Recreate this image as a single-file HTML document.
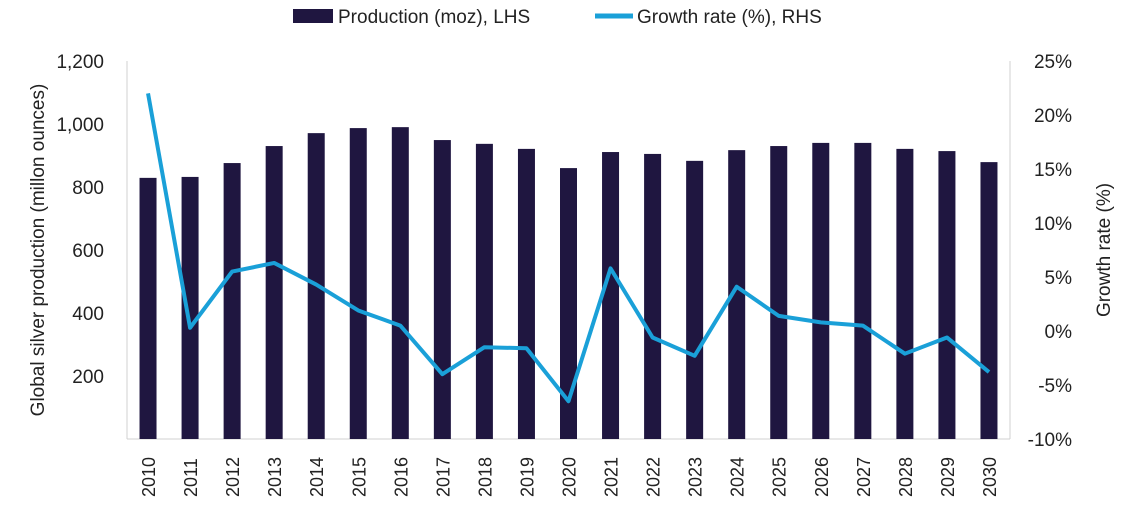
<!DOCTYPE html>
<html><head><meta charset="utf-8"><style>
body{margin:0;background:#fff;}
svg text{font-family:"Liberation Sans",sans-serif;fill:#222;}
</style></head><body>
<svg width="1123" height="513" viewBox="0 0 1123 513">
<g>
<rect x="293" y="9" width="40" height="14" fill="#1f1640"/>
<text x="338" y="23" font-size="19">Production (moz), LHS</text>
<line x1="595" y1="16" x2="633" y2="16" stroke="#1aa0d8" stroke-width="5"/>
<text x="637" y="23" font-size="19">Growth rate (%), RHS</text>
</g>
<g id="axes"></g>
<g id="bars"></g>
<g id="line"></g>
<text transform="translate(44,250) rotate(-90)" text-anchor="middle" font-size="19">Global silver production (millon ounces)</text>
<text transform="translate(1110,250) rotate(-90)" text-anchor="middle" font-size="19">Growth rate (%)</text>
</svg>
<script>
const categories=[2010,2011,2012,2013,2014,2015,2016,2017,2018,2019,2020,2021,2022,2023,2024,2025,2026,2027,2028,2029,2030];
const production=[829,832,876,930,971,987,990,949,937,921,860,911,905,883,917,930,940,940,921,914,879];
const growth=[22,0.3,5.5,6.3,4.3,1.9,0.5,-4,-1.5,-1.6,-6.5,5.8,-0.6,-2.3,4.1,1.4,0.8,0.5,-2.1,-0.6,-3.8];
const leftTicks=[200,400,600,800,1000,1200];
const rightTicks=[-10,-5,0,5,10,15,20,25];
const NS="http://www.w3.org/2000/svg";
const x0=127,x1=1010,yTop=61,yBot=439;
const yL=v=>yBot-(v/1200)*(yBot-yTop);
const yR=v=>yBot-((v+10)/35)*(yBot-yTop);
const step=(x1-x0)/categories.length;
const xc=i=>x0+step*(i+0.5);
function mk(tag,attrs,parent){const e=document.createElementNS(NS,tag);for(const k in attrs)e.setAttribute(k,attrs[k]);parent.appendChild(e);return e;}
const axes=document.getElementById('axes'),bars=document.getElementById('bars'),line=document.getElementById('line');
let e=mk('line',{x1:x0,y1:yTop,x2:x0,y2:yBot,stroke:'#d0d0d0','stroke-width':1},axes);


e=mk('line',{x1:x1,y1:yTop,x2:x1,y2:yBot,stroke:'#d0d0d0','stroke-width':1},axes);


e=mk('line',{x1:x0,y1:yBot,x2:x1,y2:yBot,stroke:'#d0d0d0','stroke-width':1},axes);


leftTicks.forEach(t=>{const tx=mk('text',{x:104,y:yL(t)+7,'text-anchor':'end','font-size':19},axes);tx.textContent=t.toLocaleString('en-US');

});
rightTicks.forEach(t=>{const tx=mk('text',{x:1072,y:yR(t)+7,'text-anchor':'end','font-size':19},axes);tx.textContent=t+'%';

});
categories.forEach((c,i)=>{
const r=mk('rect',{x:xc(i)-8.5,y:yL(production[i]),width:17,height:yBot-yL(production[i]),fill:'#1f1640'},bars);


const tx=mk('text',{transform:`translate(${xc(i)+7},497) rotate(-90)`,'font-size':18},axes);tx.textContent=c;


});
const p=mk('polyline',{points:growth.map((g,i)=>xc(i)+','+yR(g)).join(' '),fill:'none',stroke:'#1aa0d8','stroke-width':4,'stroke-linejoin':'round'},line);


</script>
</body></html>
